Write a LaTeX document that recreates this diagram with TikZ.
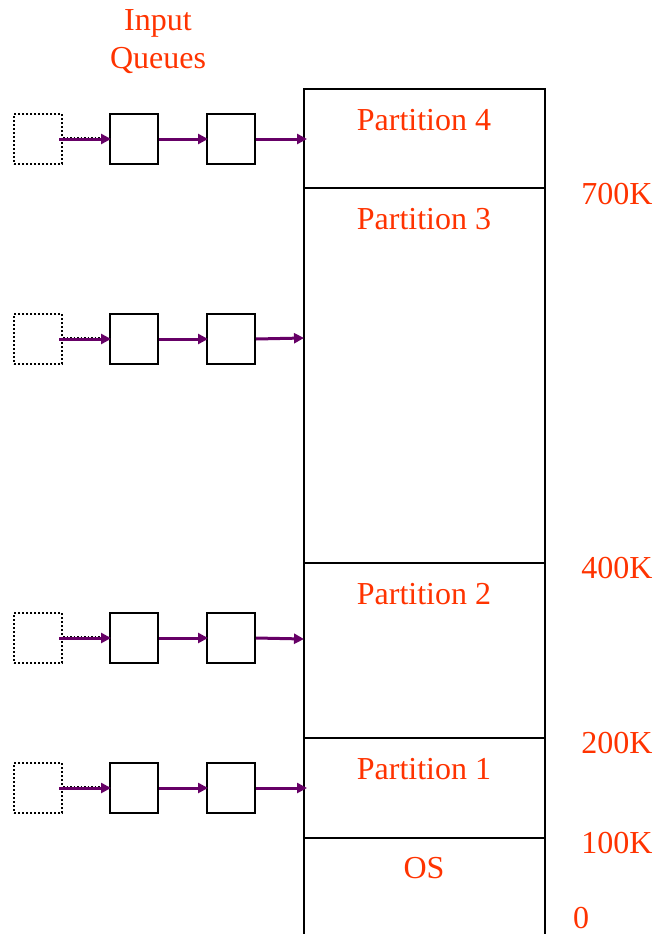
\documentclass[tikz,border=0pt]{standalone}
\usepackage{fontspec}
\setmainfont{Liberation Serif}
\usetikzlibrary{arrows.meta}
\definecolor{labelred}{HTML}{FF3300}
\definecolor{linkpurple}{HTML}{660066}
\begin{document}
\begin{tikzpicture}[x=1pt,y=-1pt,
  qbox/.style={draw=black,line width=2pt,minimum width=48pt,minimum height=50pt,inner sep=0pt},
  slot/.style={draw=black,line width=2pt,dotted,minimum width=48pt,minimum height=50pt,inner sep=0pt},
  link/.style={draw=linkpurple,line width=3pt,-{Triangle[length=10pt,width=10pt]}},
  lbl/.style={text=labelred,font=\fontsize{32}{38}\selectfont,inner sep=0pt},
  mem/.style={draw=black,line width=2pt}]
\useasboundingbox (0,0) rectangle (658,934);
% memory column
\draw[mem] (304,934) -- (304,89) -- (545,89) -- (545,934);
\foreach \yy in {188,563,738,838} \draw[mem] (304,\yy) -- (545,\yy);
\coordinate (p4) at (307,139);
\coordinate (p3) at (304,338);
\coordinate (p2) at (304,639);
\coordinate (p1) at (307,788);
% partition names
\node[lbl] (n4) at (424,120) {Partition 4};
\node[lbl] (n3) at (424,219) {Partition 3};
\node[lbl] (n2) at (424,594) {Partition 2};
\node[lbl] (n1) at (424,769) {Partition 1};
\node[lbl] (nos) at (424,868) {OS};
% addresses
\node[lbl] (a700) at (617,194) {700K};
\node[lbl] (a400) at (617,568) {400K};
\node[lbl] (a200) at (617,743) {200K};
\node[lbl] (a100) at (617,843) {100K};
\node[lbl] (a0) at (581,918) {0};
% heading
\node[lbl,align=center] (head) at (158,42) {Input\\Queues};
% queues
\foreach \r/\yc in {1/139,2/339,3/638,4/788}{
  \node[slot] (s\r) at (38,\yc) {};
  \node[qbox] (b\r) at (134,\yc) {};
  \node[qbox] (c\r) at (231,\yc) {};
}
\foreach \r/\p in {1/p4,2/p3,3/p2,4/p1}{
  \draw[black,line width=1.5pt,dotted] ([yshift=1.5pt]s\r.east) -- ([yshift=1.5pt]b\r.west);
  \draw[link] ([xshift=-4pt]s\r.east) -- ([xshift=2pt]b\r.west);
  \draw[link] (b\r.east) -- ([xshift=2pt]c\r.west);
  \draw[link] (c\r.east) -- (\p);
}
\end{tikzpicture}
\end{document}
